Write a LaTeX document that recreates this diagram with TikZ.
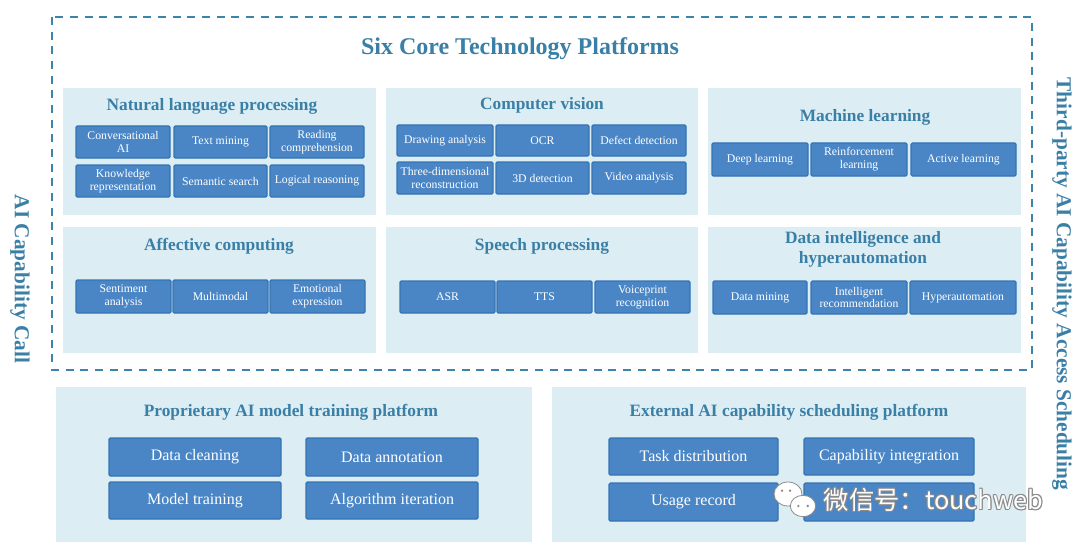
\documentclass[tikz,border=0pt]{standalone}
\usepackage{fontspec}
\setmainfont{Liberation Serif}
\newfontfamily\cjk{Noto Sans CJK SC}
\usetikzlibrary{calc,shapes.geometric}
\definecolor{panelbg}{HTML}{DCEDF4}
\definecolor{boxblue}{HTML}{4A86C6}
\definecolor{boxedge}{HTML}{3474B2}
\definecolor{titlecol}{HTML}{3A7FA6}
\definecolor{dashcol}{HTML}{3C84AE}
\definecolor{wmgray}{HTML}{8A8A8A}
\tikzset{
  panel/.style={fill=panelbg,draw=none,inner sep=0pt},
  tbox/.style={fill=boxblue,draw=boxedge,line width=0.9pt,rounded corners=1pt,
    text=white,inner sep=0pt,align=center,font=\fontsize{8.8}{9.6}\selectfont},
  bbox/.style={tbox,font=\fontsize{12}{13}\selectfont},
  ptitle/.style={text=titlecol,font=\bfseries\fontsize{13}{15}\selectfont,align=center},
  sidelabel/.style={text=titlecol,font=\bfseries\fontsize{16}{18}\selectfont,rotate=-90},
  dashframe/.style={draw=dashcol,line width=1.6pt,dash pattern=on 6pt off 5pt},
  bubble/.style={ellipse,draw=wmgray,fill=white,line width=0.6pt,inner sep=0pt},
}
\newcommand\bx[7][tbox]{\node[#1,minimum width={(#5-#3)*0.75pt},minimum height={(#6-#4)*0.75pt}] (#2) at ({(#3+#5)/2},{(#4+#6)/2}) {#7};}
\newcommand\pn[5]{\node[panel,minimum width={(#4-#2)*0.75pt},minimum height={(#5-#3)*0.75pt}] (#1) at ({(#2+#4)/2},{(#3+#5)/2}) {};}
\newcommand\wmt[3]{%
  \foreach \dx/\dy [count=\k] in {-0.6/0,0.6/0,0/-0.6,0/0.6,-0.45/-0.45,0.45/0.45,-0.45/0.45,0.45/-0.45}{
    \node[text=wmgray,font=\cjk\fontsize{19}{20}\selectfont,anchor=west] (#1o\k) at ($(#2,#3)+(\dx pt,\dy pt)$) {微信号：touchweb};}
  \node[text=white,font=\cjk\fontsize{19}{20}\selectfont,anchor=west] (#1) at (#2,#3) {微信号：touchweb};}
\begin{document}
\begin{tikzpicture}[x=0.75pt,y=-0.75pt]
\useasboundingbox (0,0) rectangle (1080,549);
% outer dashed frame
\coordinate (ftl) at (52,17);
\coordinate (fbr) at (1032,370);
\draw[dashframe] (ftl) rectangle (fbr);
\node[text=titlecol,font=\bfseries\fontsize{18}{20}\selectfont] (maintitle) at (520,49) {Six Core Technology Platforms};
% side labels
\node[sidelabel] (leftlab) at (20,279) {AI Capability Call};
\node[sidelabel] (rightlab) at (1062,284) {Third-party AI Capability Access Scheduling};
% panels
\pn{nlp}{63}{88}{376}{215}
\pn{cv}{386}{88}{698}{215}
\pn{ml}{708}{88}{1021}{215}
\pn{aff}{63}{227}{376}{353}
\pn{sp}{386}{227}{698}{353}
\pn{di}{708}{227}{1021}{353}
\pn{prop}{56}{387}{532}{542}
\pn{ext}{552}{387}{1026}{542}
% NLP
\node[ptitle] (nlpt) at (212,106) {Natural language processing};
\bx{n1}{76}{126}{170}{158}{Conversational\\AI}
\bx{n2}{174}{126}{267}{158}{Text mining}
\bx{n3}{270}{126}{364}{158}{Reading\\comprehension}
\bx{n4}{76}{165}{170}{197}{Knowledge\\representation}
\bx{n5}{174}{165}{267}{197}{Semantic search}
\bx{n6}{270}{165}{364}{197}{Logical reasoning}
% CV
\node[ptitle] (cvt) at (542,105) {Computer vision};
\bx{c1}{397}{125}{493}{156}{Drawing analysis}
\bx{c2}{496}{125}{589}{156}{OCR}
\bx{c3}{592}{125}{686}{156}{Defect detection}
\bx{c4}{397}{162}{493}{194}{Three-dimensional\\reconstruction}
\bx{c5}{496}{162}{589}{194}{3D detection}
\bx{c6}{592}{162}{686}{194}{Video analysis}
% ML
\node[ptitle] (mlt) at (865,117) {Machine learning};
\bx{m1}{712}{143}{808}{176}{Deep learning}
\bx{m2}{811}{143}{907}{176}{Reinforcement\\learning}
\bx{m3}{911}{143}{1016}{176}{Active learning}
% Affective
\node[ptitle] (afft) at (219,246) {Affective computing};
\bx{a1}{76}{280}{171}{313}{Sentiment\\analysis}
\bx{a2}{173}{280}{268}{313}{Multimodal}
\bx{a3}{270}{280}{365}{313}{Emotional\\expression}
% Speech
\node[ptitle] (spt) at (542,246) {Speech processing};
\bx{s1}{400}{281}{495}{313}{ASR}
\bx{s2}{497}{281}{592}{313}{TTS}
\bx{s3}{595}{281}{690}{313}{Voiceprint\\recognition}
% Data intelligence
\node[ptitle] (dit) at (863,249) {Data intelligence and\\hyperautomation};
\bx{d1}{713}{281}{807}{314}{Data mining}
\bx{d2}{811}{281}{907}{314}{Intelligent\\recommendation}
\bx{d3}{910}{281}{1016}{314}{Hyperautomation}
% Proprietary
\node[ptitle] (propt) at (291,412) {Proprietary AI model training platform};
\bx[bbox]{p1}{109}{438}{281}{476}{Data cleaning}
\bx[bbox]{p2}{306}{438}{478}{476}{Data annotation}
\bx[bbox]{p3}{109}{482}{281}{519}{Model training}
\bx[bbox]{p4}{306}{482}{478}{519}{Algorithm iteration}
% External
\node[ptitle] (extt) at (789,412) {External AI capability scheduling platform};
\bx[bbox]{e1}{609}{438}{778}{475}{Task distribution}
\bx[bbox]{e2}{804}{438}{974}{475}{Capability integration}
\bx[bbox]{e3}{609}{483}{778}{521}{Usage record}
\bx[bbox]{e4}{804}{483}{974}{521}{}
% watermark
\node[bubble,minimum width=21pt,minimum height=18pt] (wb1) at (788,494) {};
\node[bubble,minimum width=19pt,minimum height=16pt] (wb2) at (803,506) {};
\fill[wmgray] ($(wb1)+(-4.5pt,2.5pt)$) circle (1pt) ($(wb1)+(1.5pt,2.5pt)$) circle (1pt);
\fill[wmgray] ($(wb2)+(-3.5pt,0pt)$) circle (1pt) ($(wb2)+(3.5pt,0pt)$) circle (1pt);
\wmt{wm}{819}{500}
\end{tikzpicture}
\end{document}
